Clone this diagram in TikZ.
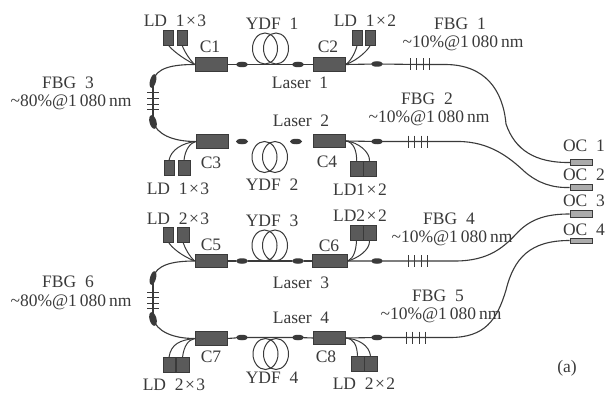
\documentclass[tikz,border=0pt]{standalone}
\usepackage{fontspec}
\setmainfont{Liberation Serif}
\usetikzlibrary{shapes.geometric}
\definecolor{ink}{HTML}{3A3A3A}
\definecolor{boxc}{HTML}{5A5A5A}
\definecolor{occ}{HTML}{ABABAB}
\newcommand{\tms}{\kern1.5pt×\kern1.5pt}
\tikzset{
  lbl/.style={text=ink,font=\fontsize{17.5}{18}\selectfont,inner sep=0pt},
  coupler/.style={draw=ink,fill=boxc,line width=.6pt,minimum width=32pt,minimum height=13.5pt,inner sep=0pt},
  ldbox/.style={draw=ink,fill=boxc,line width=.5pt,minimum width=10pt,minimum height=15pt,inner sep=0pt},
  ldwide/.style={draw=ink,fill=boxc,line width=.5pt,minimum width=13pt,minimum height=15pt,inner sep=0pt},
  ocbox/.style={draw=ink,fill=occ,line width=.7pt,minimum width=22pt,minimum height=6.5pt,inner sep=0pt},
  splice/.style={ellipse,fill=ink,minimum width=12pt,minimum height=5.5pt,inner sep=0pt},
  loopc/.style={ellipse,draw=ink,line width=1pt,minimum width=25pt,minimum height=31pt,inner sep=0pt},
  fibre/.style={draw=ink,line width=1.1pt},
  wire/.style={draw=ink,line width=1pt},
  tick/.style={draw=ink,line width=1pt}
}
\begin{document}
\begin{tikzpicture}[x=1pt,y=-1pt]
\useasboundingbox (0,0) rectangle (607,393);
\fill[white] (0,0) rectangle (607,393);

% ---------- couplers
\node[coupler] (c1) at (211,64.5) {};
\node[coupler] (c2) at (329.5,64.5) {};
\node[coupler] (c3) at (212,141.5) {};
\node[coupler] (c4) at (329.5,141) {};
\node[coupler] (c5) at (211,261) {};
\node[coupler,minimum width=35pt] (c6) at (330,261) {};
\node[coupler] (c7) at (211,338.5) {};
\node[coupler] (c8) at (329.5,338) {};

% ---------- LDs
\node[ldbox] (ld1) at (168.5,37.5) {};
\node[ldbox] (ld2) at (182,37.5) {};
\node[ldbox] (ld3) at (357,38) {};
\node[ldbox] (ld4) at (370,38) {};
\node[ldbox] (ld5) at (169,168) {};
\node[ldbox,minimum width=12pt] (ld6) at (184,168) {};
\node[ldwide] (ld7) at (356.5,168.5) {};
\node[ldwide] (ld8) at (369.5,168.5) {};
\node[ldbox] (ld9) at (168.5,234.5) {};
\node[ldbox,minimum width=12pt] (ld10) at (183,234.5) {};
\node[ldwide] (ld11) at (356.5,233) {};
\node[ldwide] (ld12) at (369.5,233) {};
\node[ldbox,minimum width=12.5pt] (ld13) at (169,365) {};
\node[ldbox,minimum width=13pt] (ld14) at (182.5,365) {};
\node[ldwide] (ld15) at (357.5,363.5) {};
\node[ldwide] (ld16) at (370.5,363.5) {};

% ---------- output couplers
\node[ocbox] (oc1) at (581.5,162.5) {};
\node[ocbox] (oc2) at (581,187.5) {};
\node[ocbox] (oc3) at (581,214) {};
\node[ocbox,minimum height=5pt] (oc4) at (581,240.5) {};

% ---------- splices
\node[splice] (s1) at (242,64.5) {};
\node[splice] (s2) at (298,64.5) {};
\node[splice] (s3) at (377,64) {};
\node[splice] (s4) at (242,141.5) {};
\node[splice] (s5) at (296,141.5) {};
\node[splice] (s6) at (377,141.5) {};
\node[splice] (s7) at (242,261) {};
\node[splice] (s8) at (298,261) {};
\node[splice] (s9) at (377,261) {};
\node[splice] (s10) at (242,337.5) {};
\node[splice] (s11) at (298,337.5) {};
\node[splice] (s12) at (377,337.5) {};
\node[splice,rotate=75,minimum width=14pt,minimum height=6pt] (e1) at (153,81) {};
\node[splice,rotate=105,minimum width=14pt,minimum height=7pt] (e2) at (153,122) {};
\node[splice,rotate=75,minimum width=14pt,minimum height=6pt] (e3) at (153,278) {};
\node[splice,rotate=105,minimum width=14pt,minimum height=7pt] (e4) at (153,319) {};

% ---------- fibre gratings (named points on the lines)
\coordinate (g1) at (420,64.5);
\coordinate (g2) at (418,141.5);
\coordinate (g4) at (418,261);
\coordinate (g5) at (416,337.5);
\coordinate (g3) at (153,101.5);
\coordinate (g6) at (153,300.5);

% ---------- fibres
\path[fibre] (c1.west) .. controls (172,64.5) and (156,68) .. (e1.center);
\path[fibre] (e1.center) -- (g3) -- (e2.center);
\path[fibre] (e2.center) .. controls (157,134) and (172,141.5) .. (c3.west);
\path[fibre] (c5.west) .. controls (172,261) and (156,265) .. (e3.center);
\path[fibre] (e3.center) -- (g6) -- (e4.center);
\path[fibre] (e4.center) .. controls (157,331) and (172,338.5) .. (c7.west);
\path[fibre] (c1.east) -- (s1) -- (s2) -- (c2.west);
\path[fibre] (c5.east) -- (s7) -- (s8) -- (c6.west);
\path[fibre] (c7.east) -- (s10) -- (s11) -- (c8.west);
\path[fibre] (c2.east) -- (s3) -- (g1) -- (445,64.5) .. controls (485,64.5) and (503,90) .. (506,124) .. controls (515,150) and (535,163) .. (oc1.west);
\path[fibre] (c4.east) -- (s6) -- (g2) -- (458,141.5) .. controls (490,141.5) and (510,158) .. (525,172) .. controls (538,183) and (552,188) .. (oc2.west);
\path[fibre] (c6.east) -- (s9) -- (g4) -- (455,261) .. controls (490,261) and (505,246) .. (518,232) .. controls (532,218) and (548,214) .. (oc3.west);
\path[fibre] (c8.east) -- (s12) -- (g5) -- (450,337.5) .. controls (485,337.5) and (497,320) .. (506,290) .. controls (514,258) and (530,240.5) .. (oc4.west);

% ---------- grating ticks
\foreach \d in {-10,-3.5,3,9.5}{
  \path[tick] ([shift={(\d,-6)}]g1) -- ([shift={(\d,6)}]g1);
  \path[tick] ([shift={(\d,-6)}]g2) -- ([shift={(\d,6)}]g2);
  \path[tick] ([shift={(\d,-6)}]g4) -- ([shift={(\d,6)}]g4);
  \path[tick] ([shift={(\d,-6)}]g5) -- ([shift={(\d,6)}]g5);
  \path[tick] ([shift={(-6,\d*.85)}]g3) -- ([shift={(6,\d*.85)}]g3);
  \path[tick] ([shift={(-6,\d*.85)}]g6) -- ([shift={(6,\d*.85)}]g6);
}

% ---------- pump wires
\path[wire] (ld1.south) .. controls (172,50) and (182,58) .. (c1.west);
\path[wire] (ld2.south) .. controls (184,50) and (188,58) .. (c1.west);
\path[wire] (ld3.south) .. controls (356,50) and (352,60) .. (c2.east);
\path[wire] (ld4.south) .. controls (368,50) and (358,60) .. (c2.east);
\path[wire] (ld5.north) .. controls (171,150) and (182,143) .. (c3.west);
\path[wire] (ld6.north) .. controls (185,150) and (190,143) .. (c3.west);
\path[wire] (ld7.north) .. controls (357,152) and (354,142) .. (c4.east);
\path[wire] (ld8.north) .. controls (370,152) and (358,142) .. (c4.east);
\path[wire] (ld9.south) .. controls (172,248) and (182,256) .. (c5.west);
\path[wire] (ld10.south) .. controls (185,248) and (189,256) .. (c5.west);
\path[wire] (ld11.south) .. controls (356,250) and (354,258) .. (c6.east);
\path[wire] (ld12.south) .. controls (370,250) and (358,258) .. (c6.east);
\path[wire] (ld13.north) .. controls (171,344) and (180,340) .. (c7.west);
\path[wire] (ld14.north) .. controls (184,346) and (188,340) .. (c7.west);
\path[wire] (ld15.north) .. controls (357,345) and (354,339) .. (c8.east);
\path[wire] (ld16.north) .. controls (369,345) and (358,339) .. (c8.east);

% ---------- fibre coils
\node[loopc] (y1a) at (265,48.5) {};
\node[loopc] (y1b) at (276,48.5) {};
\node[loopc] (y2a) at (264.5,157) {};
\node[loopc] (y2b) at (275,157) {};
\node[loopc] (y3a) at (264.5,245.5) {};
\node[loopc] (y3b) at (275,245.5) {};
\node[loopc] (y4a) at (265.5,354) {};
\node[loopc] (y4b) at (276,354) {};

% ---------- labels
\node[lbl] (t1) at (175,21) {LD\ \ 1\tms 3};
\node[lbl] (t2) at (178,189) {LD\ \ 1\tms 3};
\node[lbl] (t3) at (365,21) {LD\ \ 1\tms 2};
\node[lbl] (t4) at (360,190) {LD1\tms 2};
\node[lbl] (t5) at (178,219) {LD\ \ 2\tms 3};
\node[lbl] (t6) at (174,385) {LD\ \ 2\tms 3};
\node[lbl] (t7) at (360,216) {LD2\tms 2};
\node[lbl] (t8) at (364,384) {LD\ \ 2\tms 2};
\node[lbl] (n1) at (210,47) {C1};
\node[lbl] (n2) at (328,47) {C2};
\node[lbl] (n3) at (211,163) {C3};
\node[lbl] (n4) at (327,162) {C4};
\node[lbl] (n5) at (211,245) {C5};
\node[lbl] (n6) at (329,246) {C6};
\node[lbl] (n7) at (211,357) {C7};
\node[lbl] (n8) at (326,357) {C8};
\node[lbl] (y1) at (272,24) {YDF\ \ 1};
\node[lbl] (y2) at (272,185) {YDF\ \ 2};
\node[lbl] (y3) at (272,221) {YDF\ \ 3};
\node[lbl] (y4) at (272,378) {YDF\ \ 4};
\node[lbl] (l1) at (300,83) {Laser\ \ 1};
\node[lbl] (l2) at (301,121) {Laser\ \ 2};
\node[lbl] (l3) at (301,283) {Laser\ \ 3};
\node[lbl] (l4) at (301,318) {Laser\ \ 4};
\node[lbl] (f3a) at (68,83) {FBG\ \ 3};
\node[lbl] (f3b) at (71,102) {\textasciitilde 80\%@1\,080\,nm};
\node[lbl] (f6a) at (68,282) {FBG\ \ 6};
\node[lbl] (f6b) at (71,302) {\textasciitilde 80\%@1\,080\,nm};
\node[lbl] (f1a) at (460,24) {FBG\ \ 1};
\node[lbl] (f1b) at (463,43) {\textasciitilde 10\%@1\,080\,nm};
\node[lbl] (f2a) at (427,99) {FBG\ \ 2};
\node[lbl] (f2b) at (429,118) {\textasciitilde 10\%@1\,080\,nm};
\node[lbl] (f4a) at (449,219) {FBG\ \ 4};
\node[lbl] (f4b) at (452,238) {\textasciitilde 10\%@1\,080\,nm};
\node[lbl] (f5a) at (438,296) {FBG\ \ 5};
\node[lbl] (f5b) at (441,315) {\textasciitilde 10\%@1\,080\,nm};
\node[lbl] (o1) at (584,146) {OC\ \ 1};
\node[lbl] (o2) at (584,175) {OC\ \ 2};
\node[lbl] (o3) at (584,201) {OC\ \ 3};
\node[lbl] (o4) at (584,230) {OC\ \ 4};
\node[lbl] (a) at (567,368) {(a)};
\end{tikzpicture}
\end{document}
